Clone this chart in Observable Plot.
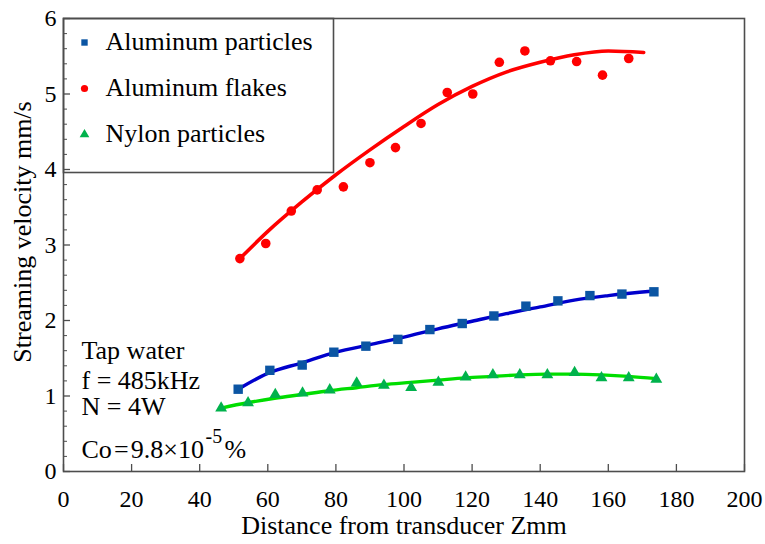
<!DOCTYPE html>
<html><head><meta charset="utf-8">
<script src="https://cdn.jsdelivr.net/npm/d3@7"></script>
<script src="https://cdn.jsdelivr.net/npm/@observablehq/plot@0.6"></script>
<style>
body{margin:0;background:#fff;}
#chart{width:765px;height:544px;}
#chart svg, #chart text{font-family:"Liberation Serif","Times New Roman",serif !important;}
</style>
</head><body><div id="chart"></div>
<script>
// ---- data ----
const seriesNames = ["Aluminum particles", "Aluminum flakes", "Nylon particles"];

// Aluminum particles (squares)
const apX = [51.3, 60.6, 70.1, 79.4, 88.8, 98.2, 107.6, 117.1, 126.4, 135.8, 145.2, 154.6, 164.0, 173.4];
const apY = [1.09, 1.34, 1.41, 1.58, 1.66, 1.75, 1.88, 1.96, 2.06, 2.19, 2.26, 2.33, 2.35, 2.38];
const apFitX = [51.3, 60, 70, 80, 90, 100, 110, 120, 130, 140, 150, 160, 173.4];
const apFitY = [1.09, 1.30, 1.44, 1.58, 1.68, 1.78, 1.89, 1.99, 2.09, 2.18, 2.27, 2.33, 2.39];

// Aluminum flakes (circles)
const afX = [51.8, 59.4, 66.9, 74.5, 82.2, 90.0, 97.5, 105.0, 112.7, 120.2, 128.0, 135.5, 143.0, 150.7, 158.3, 166.0];
const afY = [2.82, 3.02, 3.45, 3.73, 3.77, 4.09, 4.29, 4.61, 5.02, 5.00, 5.42, 5.57, 5.44, 5.43, 5.25, 5.47];
const afFitX = [51.8, 60, 70, 80, 90, 100, 110, 120, 130, 140, 150, 160, 170.4];
const afFitY = [2.82, 3.18, 3.57, 3.93, 4.26, 4.57, 4.86, 5.10, 5.29, 5.42, 5.52, 5.57, 5.55];

// Nylon particles (triangles)
const nyX = [46.3, 54.2, 62.2, 70.2, 78.2, 86.1, 94.1, 102.1, 110.1, 118.1, 126.1, 134.0, 142.1, 150.1, 158.0, 166.0, 174.1];
const nyY = [0.84, 0.91, 1.02, 1.04, 1.08, 1.17, 1.14, 1.11, 1.18, 1.25, 1.28, 1.28, 1.28, 1.31, 1.24, 1.24, 1.22];
const nyFitX = [46.3, 54, 62, 70, 78, 86, 94, 102, 110, 118, 126, 134, 142, 150, 158, 166, 174.1];
const nyFitY = [0.84, 0.91, 0.97, 1.02, 1.07, 1.11, 1.15, 1.18, 1.21, 1.24, 1.26, 1.28, 1.29, 1.29, 1.28, 1.26, 1.23];

const xTicks = [0, 20, 40, 60, 80, 100, 120, 140, 160, 180, 200];
const yTicks = [0, 1, 2, 3, 4, 5, 6];
const yMinorTicks = [0.2, 0.4, 0.6, 0.8, 1.2, 1.4, 1.6, 1.8, 2.2, 2.4, 2.6, 2.8, 3.2, 3.4, 3.6, 3.8, 4.2, 4.4, 4.6, 4.8, 5.2, 5.4, 5.6, 5.8];

const xLabel = "Distance from transducer Zmm";
const yLabel = "Streaming velocity mm/s";
const noteLines = ["Tap water", "f = 485kHz", "N = 4W"];
const noteCo = "Co\u200A=\u200A9.8×10";
const noteExp = "-5";
const notePct = "%";

// ---- styles ----
const markerFill = ["#0b55a3", "#ff0000", "#00b24c"];
const lineStroke = ["#0000cc", "#ff0000", "#00dd00"];
const symbols = ["square", "circle", "triangle"];
const markerR = [5.3, 4.8, 4.4];
const axisColor = "#4d4d4d";
const font = "Liberation Serif";

const pts = (xs, ys) => xs.map((x, i) => ({x, y: ys[i]}));
const points = [pts(apX, apY), pts(afX, afY), pts(nyX, nyY)];
const fits = [pts(apFitX, apFitY), pts(afFitX, afFitY), pts(nyFitX, nyFitY)];

const W = 765, H = 544, mL = 63, mR = 21, mT = 18, mB = 73;
const fw = W - mL - mR, fh = H - mT - mB;

const T = {fontFamily: font, fill: "#000"};
const marks = [];
for (let s = 0; s < 3; s++) {
  marks.push(Plot.line(fits[s], {x: "x", y: "y", stroke: lineStroke[s], strokeWidth: s === 1 ? 3.6 : 3.4, curve: "monotone-x"}));
}
for (let s = 0; s < 3; s++) {
  marks.push(Plot.dot(points[s], {x: "x", y: "y", symbol: () => symbols[s], fill: markerFill[s], r: markerR[s], stroke: "none"}));
}
// inward ticks
marks.push(Plot.ruleX(xTicks, {x: d => d, insetTop: fh - 7, stroke: axisColor, strokeWidth: 1.3}));
marks.push(Plot.ruleY(yTicks, {y: d => d, insetRight: fw - 7, stroke: axisColor, strokeWidth: 1.3}));
marks.push(Plot.ruleY(yMinorTicks, {y: d => d, insetRight: fw - 4, stroke: axisColor, strokeWidth: 1}));
// tick labels
marks.push(Plot.axisX(xTicks, {tickSize: 0, tickPadding: 18, fontSize: 24, label: null, tickFormat: d => String(d), fontVariant: "normal", ...T}));
marks.push(Plot.axisY(yTicks, {tickSize: 0, tickPadding: 7, fontSize: 24, label: null, tickFormat: d => String(d), fontVariant: "normal", ...T}));
// axis titles
marks.push(Plot.text([xLabel], {frameAnchor: "bottom", text: d => d, dy: 62, fontSize: 26, textAnchor: "middle", lineAnchor: "bottom", ...T}));
marks.push(Plot.text([yLabel], {frameAnchor: "left", text: d => d, dx: -41, dy: -13, rotate: -90, fontSize: 26, textAnchor: "middle", lineAnchor: "middle", ...T}));
// frame
marks.push(Plot.frame({stroke: axisColor, strokeWidth: 1.6}));
// legend box + entries
marks.push(Plot.frame({stroke: axisColor, strokeWidth: 1.6, insetRight: 744 - 333, insetBottom: 471 - 172}));
for (let s = 0; s < 3; s++) {
  marks.push(Plot.dot([seriesNames[s]], {frameAnchor: "top-left", dx: 21, dy: 24 + 46 * s, symbol: () => symbols[s], fill: markerFill[s], r: 3.6, stroke: "none"}));
  marks.push(Plot.text([seriesNames[s]], {frameAnchor: "top-left", text: d => d, dx: 42, dy: 31 + 46 * s, textAnchor: "start", lineAnchor: "bottom", fontSize: 26, ...T}));
}
// annotation
noteLines.forEach((t, i) => {
  marks.push(Plot.text([t], {frameAnchor: "top-left", text: d => d, dx: 18, dy: 340 + [0, 30, 56][i], textAnchor: "start", lineAnchor: "bottom", fontSize: 26, ...T}));
});
marks.push(Plot.text([noteCo], {frameAnchor: "top-left", text: d => d, dx: 18, dy: 439, textAnchor: "start", lineAnchor: "bottom", fontSize: 26, ...T}));
marks.push(Plot.text([noteExp], {frameAnchor: "top-left", text: d => d, dx: 142, dy: 424, textAnchor: "start", lineAnchor: "bottom", fontSize: 20, ...T}));
marks.push(Plot.text([notePct], {frameAnchor: "top-left", text: d => d, dx: 161, dy: 439, textAnchor: "start", lineAnchor: "bottom", fontSize: 26, ...T}));

const chart = Plot.plot({
  width: W, height: H,
  marginLeft: mL, marginRight: mR, marginTop: mT, marginBottom: mB,
  style: {fontFamily: font, fontSize: "24px", background: "#fff", overflow: "visible"},
  x: {domain: [0, 200], label: null, axis: null},
  y: {domain: [0, 6], label: null, axis: null},
  marks
});
document.getElementById("chart").appendChild(chart);
</script>
</body></html>
